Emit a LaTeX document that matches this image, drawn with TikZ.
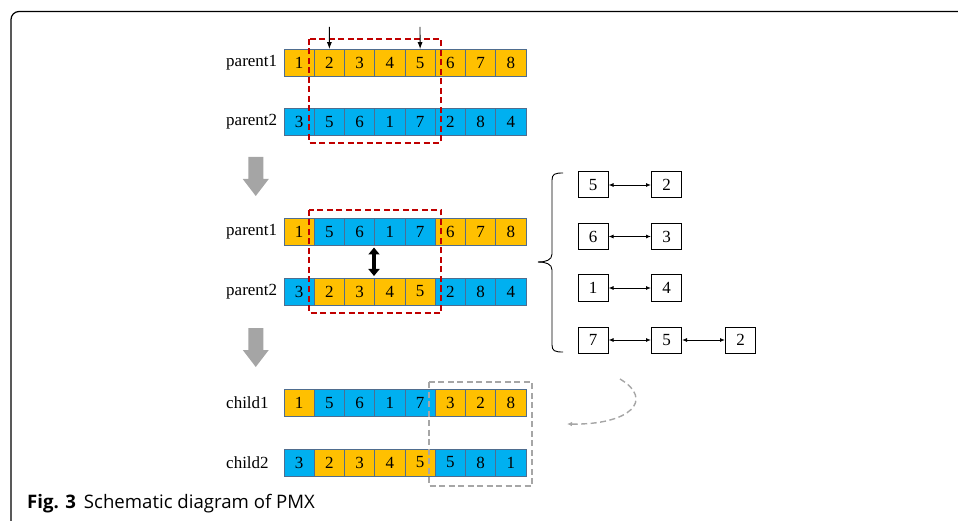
\documentclass[tikz,border=0pt]{standalone}
\usepackage{fontspec}
\setmainfont{Liberation Serif}
\newfontfamily\capfont{Open Sans}
\usetikzlibrary{arrows.meta}
\definecolor{org}{HTML}{FFC000}
\definecolor{blu}{HTML}{00B0F0}
\definecolor{cellb}{HTML}{4F6D8F}
\definecolor{dred}{HTML}{C00000}
\definecolor{lgray}{HTML}{A6A6A6}
\definecolor{bgray}{HTML}{A5A5A5}
\newcommand\cellrow[3]{%
  \foreach \d/\c [count=\i] in {#3}
    \node[cell, fill=\c] (#1\i) at ({284+30.25*(\i-0.5)}, #2) {\d};}
\begin{document}
\begin{tikzpicture}[x=1pt,y=-1pt,
  cell/.style={draw=cellb, line width=0.8pt, minimum width=30.25pt, minimum height=27pt, inner sep=0pt, font=\fontsize{17}{17}\selectfont},
  lab/.style={anchor=west, inner sep=0pt, font=\fontsize{17}{17}\selectfont},
  rbox/.style={draw=black, fill=white, line width=1pt, minimum width=30pt, minimum height=26pt, inner sep=0pt, font=\fontsize{17}{17}\selectfont},
  dbl/.style={{Latex[length=5pt,width=4pt]}-{Latex[length=5pt,width=4pt]}, line width=0.9pt},
  redbox/.style={draw=dred, line width=1.6pt, dash pattern=on 6pt off 3.5pt},
  graybox/.style={draw=lgray, line width=1.5pt, dash pattern=on 6pt off 3.5pt},
  bigarrow/.style={fill=bgray, draw=none}]
\useasboundingbox (0,0) rectangle (958,521);
% frame
\draw[line width=1.2pt, rounded corners=8pt] (11,540) -- (11,11.5) -- (980,11.5);
% rows
\cellrow{pa}{63}{1/org,2/org,3/org,4/org,5/org,6/org,7/org,8/org}
\cellrow{pb}{122}{3/blu,5/blu,6/blu,1/blu,7/blu,2/blu,8/blu,4/blu}
\cellrow{pc}{232}{1/org,5/blu,6/blu,1/blu,7/blu,6/org,7/org,8/org}
\cellrow{pd}{291.5}{3/blu,2/org,3/org,4/org,5/org,2/blu,8/blu,4/blu}
\cellrow{ca}{403}{1/org,5/blu,6/blu,1/blu,7/blu,3/org,2/org,8/org}
\cellrow{cb}{462.5}{3/blu,2/org,3/org,4/org,5/org,5/blu,8/blu,1/blu}
% labels
\node[lab] (la) at (226,63) {parent1};
\node[lab] (lb) at (226,122) {parent2};
\node[lab] (lc) at (226,232) {parent1};
\node[lab] (ld) at (226,291.5) {parent2};
\node[lab] (le) at (226,403) {child1};
\node[lab] (lf) at (226,462.5) {child2};
% dashed boxes
\draw[redbox] (309,39) rectangle (441,143);
\draw[redbox] (309,210) rectangle (441,313);
\draw[graybox] (429,382) rectangle (532,486);
% cut arrows
\coordinate (t1) at (329.4,27);
\coordinate (t2) at (420,27);
\draw[-{Latex[length=7pt,width=5pt]}, line width=0.9pt] (t1) -- (pa2.north);
\draw[-{Latex[length=7pt,width=5pt]}, line width=0.9pt] (t2) -- (pa5.north);
% big gray arrows
\fill[bigarrow] (248.25,157) -- (263.25,157) -- (263.25,179) -- (268.75,179) -- (255.75,196) -- (242.75,179) -- (248.25,179) -- cycle;
\fill[bigarrow] (248.25,328) -- (263.25,328) -- (263.25,350) -- (268.75,350) -- (255.75,367) -- (242.75,350) -- (248.25,350) -- cycle;
% swap arrow
\coordinate (s1) at (374,247.5);
\coordinate (s2) at (374,276);
\draw[line width=3.5pt, {Triangle[length=7pt,width=11pt]}-{Triangle[length=7pt,width=11pt]}] (s1) -- (s2);
% brace
\draw[line width=0.9pt] (563,173) .. controls (555,173) and (552,174) .. (552,180) -- (552,254) .. controls (552,260) and (546,262) .. (538,262);
\draw[line width=0.9pt] (538,262) .. controls (546,262) and (552,264) .. (552,270) -- (552,345) .. controls (552,351) and (555,352) .. (563,352);
% mapping boxes
\node[rbox] (m1a) at (593,185) {5};
\node[rbox] (m1b) at (666.5,185) {2};
\node[rbox] (m2a) at (593,236.5) {6};
\node[rbox] (m2b) at (666.5,236.5) {3};
\node[rbox] (m3a) at (593,288) {1};
\node[rbox] (m3b) at (666.5,288) {4};
\node[rbox] (m4a) at (593,340) {7};
\node[rbox] (m4b) at (666.5,340) {5};
\node[rbox] (m4c) at (740.5,340) {2};
\draw[dbl] (m1a) -- (m1b);
\draw[dbl] (m2a) -- (m2b);
\draw[dbl] (m3a) -- (m3b);
\draw[dbl] (m4a) -- (m4b);
\draw[dbl] (m4b) -- (m4c);
% curved dashed arrow
\coordinate (ca0) at (620,379);
\coordinate (ca1) at (567,424);
\draw[lgray, line width=1.4pt, dash pattern=on 6pt off 3.5pt, -{Latex[length=5pt,width=4.5pt]}] (ca0) .. controls (655,400) and (630,425) .. (ca1);
% caption
\node[anchor=base west, inner sep=0pt] (cap) at (27,508) {\capfont\fontsize{18.6}{18.6}\selectfont\textbf{Fig. 3}\hspace{8pt}Schematic diagram of PMX};
\end{tikzpicture}
\end{document}
